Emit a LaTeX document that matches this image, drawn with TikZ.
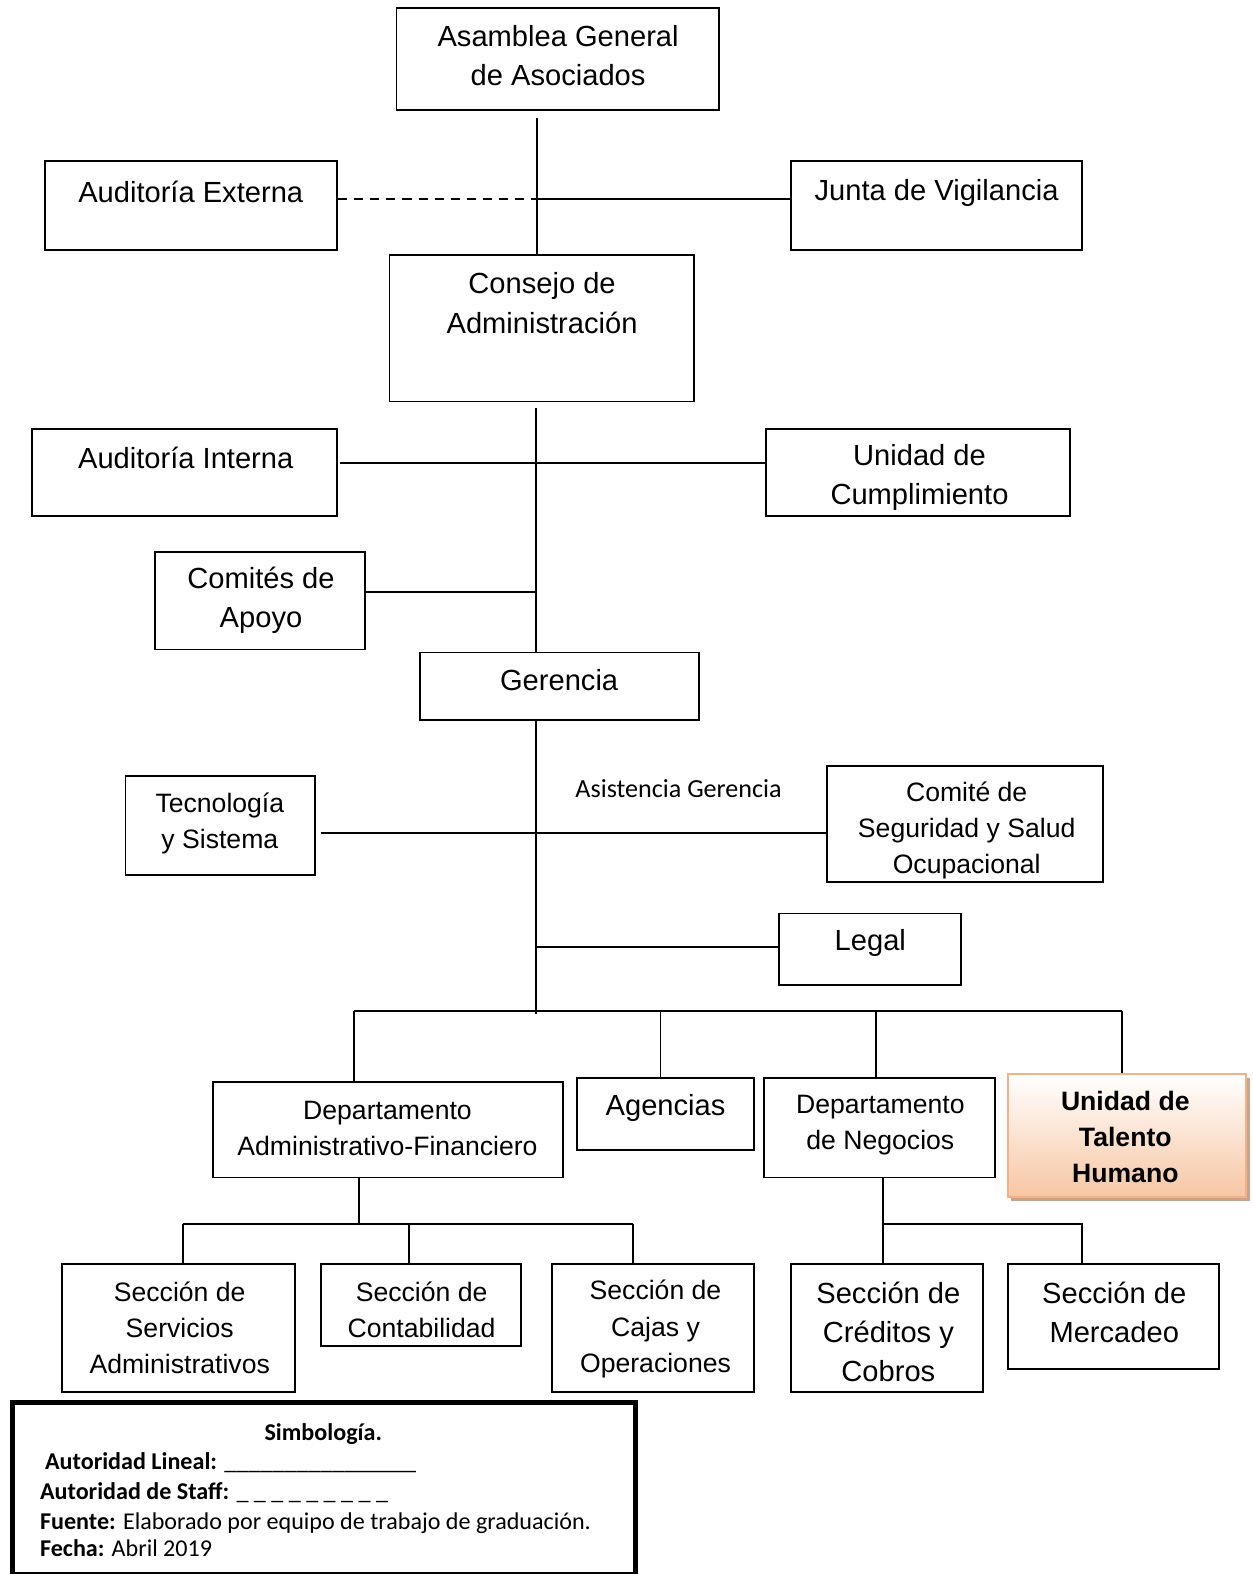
\documentclass[tikz,border=0pt]{standalone}
\usepackage{fontspec}
\setmainfont{Liberation Sans}
\newfontfamily\calibri{Carlito}
\usetikzlibrary{fit}
\definecolor{borde}{HTML}{F4B183}
\definecolor{durazno}{HTML}{F7C6A3}
\definecolor{sombra}{HTML}{C8A48C}
\begin{document}
\begin{tikzpicture}[x=1pt,y=-1pt,line width=1.9pt,
    caja/.style={draw,inner sep=0pt},
    texto/.style={align=center,inner sep=0pt,font=\fontsize{29}{39}\selectfont},
    chico/.style={align=center,inner sep=0pt,font=\fontsize{26.5}{36}\selectfont},
    nota/.style={anchor=west,inner sep=0pt,font=\calibri\fontsize{24}{28}\selectfont},
    staff/.style={dash pattern=on 9pt off 7pt}]
  \useasboundingbox (0,0) rectangle (1248,1568);

  \node[caja,fit={(395,8) (716,110)}] (asamblea) {};
  \node[texto] (asamblea-txt) at (556,55) {Asamblea General\\de Asociados};
  \node[caja,fit={(45,160) (336,249)}] (externa) {};
  \node[texto] (externa-txt) at (190,191) {Auditoría Externa};
  \node[caja,fit={(788,160) (1078,249)}] (junta) {};
  \node[texto] (junta-txt) at (933,192) {Junta de Vigilancia};
  \node[caja,fit={(388,254) (691,400)}] (consejo) {};
  \node[texto] (consejo-txt) at (540,302) {Consejo de\\Administración};

  \node[caja,fit={(32,427) (336,514)}] (interna) {};
  \node[texto] (interna-txt) at (185,456) {Auditoría Interna};
  \node[caja,fit={(763,427) (1066,514)}] (cumpl) {};
  \node[texto] (cumpl-txt) at (916,476) {Unidad de\\Cumplimiento};
  \node[caja,fit={(154,550) (364,647)}] (comites) {};
  \node[texto] (comites-txt) at (260,598) {Comités de\\Apoyo};
  \node[caja,fit={(418,650) (696,717)}] (gerencia) {};
  \node[texto] (gerencia-txt) at (557,677) {Gerencia};

  \node[caja,fit={(125,773) (314,872)}] (tecno) {};
  \node[chico] (tecno-txt) at (219,820) {Tecnología\\y Sistema};
  \node[inner sep=0pt,font=\calibri\fontsize{26}{30}\selectfont] (asistencia) at (676,786) {Asistencia Gerencia};
  \node[caja,fit={(824,763) (1099,879)}] (comite) {};
  \node[chico] (comite-txt) at (963,827) {Comité de\\Seguridad y Salud\\Ocupacional};
  \node[caja,fit={(776,910) (957,981)}] (legal) {};
  \node[texto] (legal-txt) at (867,939) {Legal};

  \node[caja,fit={(212,1078) (561,1173)}] (admin) {};
  \node[chico] (admin-txt) at (386,1124) {Departamento\\Administrativo-Financiero};
  \node[caja,fit={(575,1074) (751,1146)}] (agencias) {};
  \node[texto] (agencias-txt) at (663,1104) {Agencias};
  \node[caja,fit={(761,1074) (991,1173)}] (negocios) {};
  \node[chico] (negocios-txt) at (877,1121) {Departamento\\de Negocios};
  \fill[sombra] (1007,1074) rectangle (1245,1196);
  \node[caja,draw=borde,top color=white,bottom color=durazno,fit={(1004,1070) (1241,1192)}] (talento) {};
  \node[chico,font=\bfseries\fontsize{26.5}{36}\selectfont] (talento-txt) at (1121,1133) {Unidad de\\Talento\\Humano};

  \node[caja,fit={(62,1259) (294,1387)}] (servicios) {};
  \node[chico] (servicios-txt) at (179,1323) {Sección de\\Servicios\\Administrativos};
  \node[caja,fit={(320,1259) (519,1341)}] (contab) {};
  \node[chico] (contab-txt) at (420,1305) {Sección de\\Contabilidad};
  \node[caja,fit={(550,1259) (751,1387)}] (cajas) {};
  \node[chico] (cajas-txt) at (653,1324) {Sección de\\Cajas y\\Operaciones};
  \node[caja,fit={(788,1259) (979,1387)}] (creditos) {};
  \node[texto] (creditos-txt) at (885,1327) {Sección de\\Créditos y\\Cobros};
  \node[caja,fit={(1004,1259) (1214,1364)}] (mercadeo) {};
  \node[texto] (mercadeo-txt) at (1110,1307) {Sección de\\Mercadeo};

  \coordinate (a1) at (535,118);
  \coordinate (a2) at (535,198);
  \draw (a1) -- (a1 |- consejo.north);
  \draw[staff] (externa.east |- a2) -- (a2);
  \draw (a2) -- (junta.west |- a2);

  \coordinate (c1) at (534,406);
  \draw (c1) -- (c1 |- gerencia.north);
  \draw (339,461) coordinate (c2) -- (cumpl.west |- c2);
  \draw (comites.east |- 0,590) -- (c1 |- 0,590);

  \coordinate (g1) at (534,1010);
  \draw (c1 |- gerencia.south) -- (g1);
  \draw (320,830) coordinate (g2) -- (comite.west |- g2);
  \draw (c1 |- 0,943) -- (legal.west |- 0,943);
  \draw (353,1007) coordinate (g3) -- (1118,1007) coordinate (g4);
  \draw (g3) -- (g3 |- admin.north);
  \draw (658,1007) -- (658,0 |- agencias.north);
  \draw (873,1007) -- (873,0 |- negocios.north);
  \draw (g4) -- (g4 |- talento.north);

  \coordinate (d1) at (358,1219);
  \draw (d1 |- admin.south) -- (d1);
  \draw (182,1219) -- (631,1219);
  \foreach \x in {182,407,631}
    \draw (\x,1219) -- (\x,1259);
  \coordinate (d2) at (880,1219);
  \draw (d2 |- negocios.south) -- (d2) -- (1078,1219) -- (1078,1259);
  \draw (d2) -- (d2 |- creditos.north);

  \node[caja,line width=5pt,fit={(12,1397) (633,1568)}] (simbologia) {};
  \node[inner sep=0pt,font=\calibri\bfseries\fontsize{24}{28}\selectfont] (simb-txt) at (322,1429) {Simbología.};
  \node[nota] (lineal) at (44,1457) {\textbf{Autoridad Lineal:} \_\_\_\_\_\_\_\_\_\_\_\_\_\_\_\_};
  \node[nota] (stafftxt) at (39,1487) {\textbf{Autoridad de Staff:} \_ \_ \_ \_ \_ \_ \_ \_ \_};
  \node[nota] (fuente) at (39,1517) {\textbf{Fuente:} Elaborado por equipo de trabajo de graduación.};
  \node[nota] (fecha) at (39,1542) {\textbf{Fecha:} Abril 2019};
\end{tikzpicture}
\end{document}
